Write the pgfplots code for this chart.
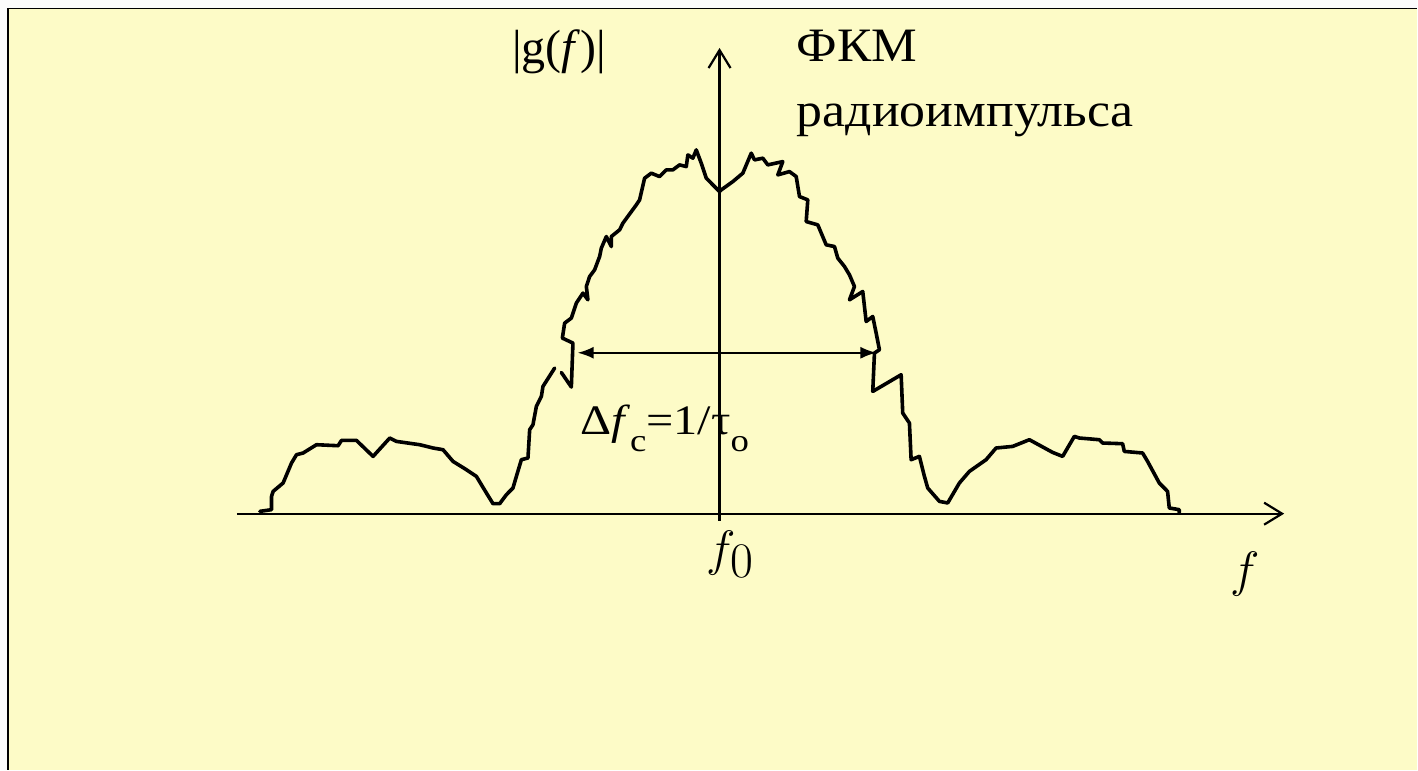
\documentclass[border=0pt]{standalone}
\usepackage{pgfplots}
\pgfplotsset{compat=1.18}
\usepackage{fontspec}
\setmainfont{Liberation Serif}
\usetikzlibrary{arrows.meta}
\definecolor{slide}{RGB}{253,251,199}
\definecolor{margin}{RGB}{252,252,252}
\begin{document}
\begin{tikzpicture}
\begin{axis}[width=709pt, height=385pt, scale only axis,
  xmin=-720, xmax=698, ymin=-256, ymax=514, hide axis, clip=false]
% background and frame
\fill[margin] (axis cs:-720,-256) rectangle (axis cs:698,514);
\fill[slide] (axis cs:-712,-256) rectangle (axis cs:698,505);
\draw[black, line width=0.9pt] (axis cs:-712,-256) -- (axis cs:-712,505.5) -- (axis cs:698,505.5);
% axes
\addplot[black, line width=1.1pt, -{Straight Barb[length=9pt,width=11pt]}] coordinates {(-483,0) (565,0)};
\addplot[black, line width=1.1pt, -{Straight Barb[length=9pt,width=11pt]}] coordinates {(0,-7) (0,466)};
% spectrum
\addplot[black, line width=1.8pt, line join=round, line cap=round] coordinates {
(-460,2.3) (-448.3,4) (-448.3,17.3) (-446.7,22.3) (-436.7,30.7) (-428.3,50.7) (-423.3,59)
(-416.7,60.7) (-403.3,69) (-381.7,68) (-378.3,73.3) (-363.3,73.3) (-346.7,57.3) (-330,75.7)
(-323.3,72.3) (-300,69) (-286.7,65.7) (-276.7,64) (-266.7,52.3) (-253.3,44) (-243.3,37.3)
(-233.3,20.7) (-226.7,10) (-220,10) (-213.3,19) (-206.7,25.7) (-203.3,37.3) (-198.3,54)
(-191.7,55.7) (-190,84) (-186.7,89) (-183.3,107.3) (-178.3,117.3) (-176.7,127.3) (-165,145.7)
};
\addplot[black, line width=1.8pt, line join=round, line cap=round] coordinates {
(-158.3,141.3) (-148.3,126.7) (-146.7,170.7) (-157.3,175.7) (-155,190.7) (-148.3,195.7)
(-143.3,210.7) (-136.7,220.7) (-131.7,214) (-133.3,227.3) (-130,237.3) (-125,244) (-120,257.3)
(-118.3,265.7) (-113.3,277.3) (-108.3,267.3) (-108.3,277.3) (-100,284) (-96.7,290.7)
(-83.3,309) (-80,314) (-75,335.7) (-68.3,340.7) (-60,337.3) (-53.3,344) (-46.7,344) (-40,349)
(-33.3,347.3) (-31.7,359) (-26.7,355.7) (-23.3,364) (-18.3,350.7) (-13.3,335.7) (0,322.3)
(1.7,324) (13.3,332.3) (23.3,340.7) (31.7,360.7) (35,354) (43.3,355.7) (48.3,349) (63.3,352.3)
(58.3,339) (70,342.3) (76.7,337.3) (80,317.3) (88.3,314) (86.7,292.3) (98.3,289) (106.7,269)
(115,267.3) (118.3,255.7) (125,247.3) (130,239) (135,227.3) (130,214) (143.3,222.3)
(146.7,192.3) (153.3,197.3) (156.7,180.7) (160,164) (155,160.7) (153.3,122.3) (181.7,139)
(183.3,100.7) (190,90.7) (191.7,54) (200,57.3) (205,37.3) (208.3,25.7) (220,12.3) (228.3,10.7)
(240,30.7) (250,42.3) (266.7,54) (276.7,65.7) (293.3,67.3) (310,74) (333.3,61.3) (343.3,57.3)
(355,77.3) (360,75.7) (380,74) (383.3,70.7) (403.3,70) (405,62.3) (423.3,60.7) (428.3,52.3)
(440,30.7) (448.3,22.3) (450,5.7) (460,4) (460,1)
};
% bandwidth arrow
\addplot[black, line width=1pt, {Latex[length=8pt,width=6pt]}-{Latex[length=8pt,width=6pt]}] coordinates {(-142,161) (157,161)};
% labels
\node[anchor=base west, inner sep=0pt] at (axis cs:-208,450) {\fontsize{24}{28}\selectfont |g(\textit{f})|};
\node[anchor=base west, inner sep=0pt] at (axis cs:77,452) {\scalebox{1.07}[1]{\fontsize{24}{28}\selectfont ФКМ}};
\node[anchor=base west, inner sep=0pt] at (axis cs:77,387) {\scalebox{1.08}[1]{\fontsize{24}{28}\selectfont радиоимпульса}};
\node[anchor=base west, inner sep=0pt] at (axis cs:-140,79) {\scalebox{1.15}[1]{\fontsize{21}{24}\selectfont Δ\textit{f}\raisebox{-8.5pt}{\fontsize{16}{18}\selectfont c}=1/τ\raisebox{-8.5pt}{\fontsize{16}{18}\selectfont o}}};
\node[anchor=base west, inner sep=0pt] at (axis cs:-13,-52) {\fontsize{25}{30}\selectfont $f$\kern-3pt\raisebox{-6pt}{$0$}};
\node[anchor=base west, inner sep=0pt] at (axis cs:511,-73) {\fontsize{26}{30}\selectfont $f$};
\end{axis}
\end{tikzpicture}
\end{document}
